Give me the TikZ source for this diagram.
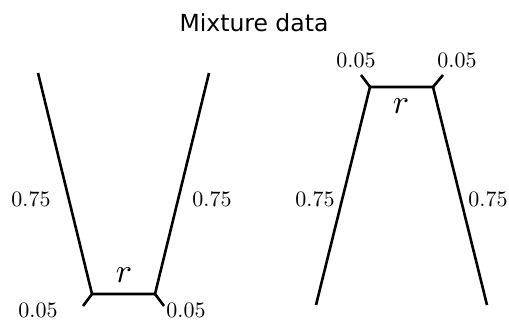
\documentclass[tikz,border=0pt]{standalone}
\usepackage{fontspec}
\newfontfamily\titlefont{DejaVu Sans}

\begin{document}
\begin{tikzpicture}[
    x=1pt, y=-1pt,
    branch/.style={line width=2.6pt, line cap=butt, line join=miter},
    weight/.style={inner sep=0pt, scale=2.2, transform shape},
    edgename/.style={inner sep=0pt, scale=3.4, transform shape}
]
\useasboundingbox (0,0) rectangle (509,320);

% Title
\node[font=\titlefont\fontsize{23.5}{27}\selectfont] (title) at (254,23) {Mixture data};

% Left tree: leaves at the top, edge r at the bottom
\coordinate (LA) at (38,73);
\coordinate (LB) at (209,73);
\coordinate (Lu) at (92,294);
\coordinate (Lv) at (155,294);
\coordinate (La) at (83,306);
\coordinate (Lb) at (164,306);

\draw[branch] (LA) -- (Lu) -- (Lv) -- (LB);
\draw[branch] (Lu) -- (La);
\draw[branch] (Lv) -- (Lb);

\node[weight] (LwA) at (31,199) {$0.75$};
\node[weight] (LwB) at (212,199) {$0.75$};
\node[edgename] (Lr) at (124,275) {$r$};
\node[weight] (Lwa) at (38,310) {$0.05$};
\node[weight] (Lwb) at (186,310) {$0.05$};

% Right tree: edge r at the top, leaves at the bottom
\coordinate (RA) at (316,305);
\coordinate (RB) at (487,305);
\coordinate (Ru) at (370,87);
\coordinate (Rv) at (433,87);
\coordinate (Ra) at (361,75);
\coordinate (Rb) at (443,75);

\draw[branch] (RA) -- (Ru) -- (Rv) -- (RB);
\draw[branch] (Ru) -- (Ra);
\draw[branch] (Rv) -- (Rb);

\node[weight] (RwA) at (315,199) {$0.75$};
\node[weight] (RwB) at (488,199) {$0.75$};
\node[edgename] (Rr) at (401,106) {$r$};
\node[weight] (Rwa) at (356,60) {$0.05$};
\node[weight] (Rwb) at (457,60) {$0.05$};

\end{tikzpicture}
\end{document}
